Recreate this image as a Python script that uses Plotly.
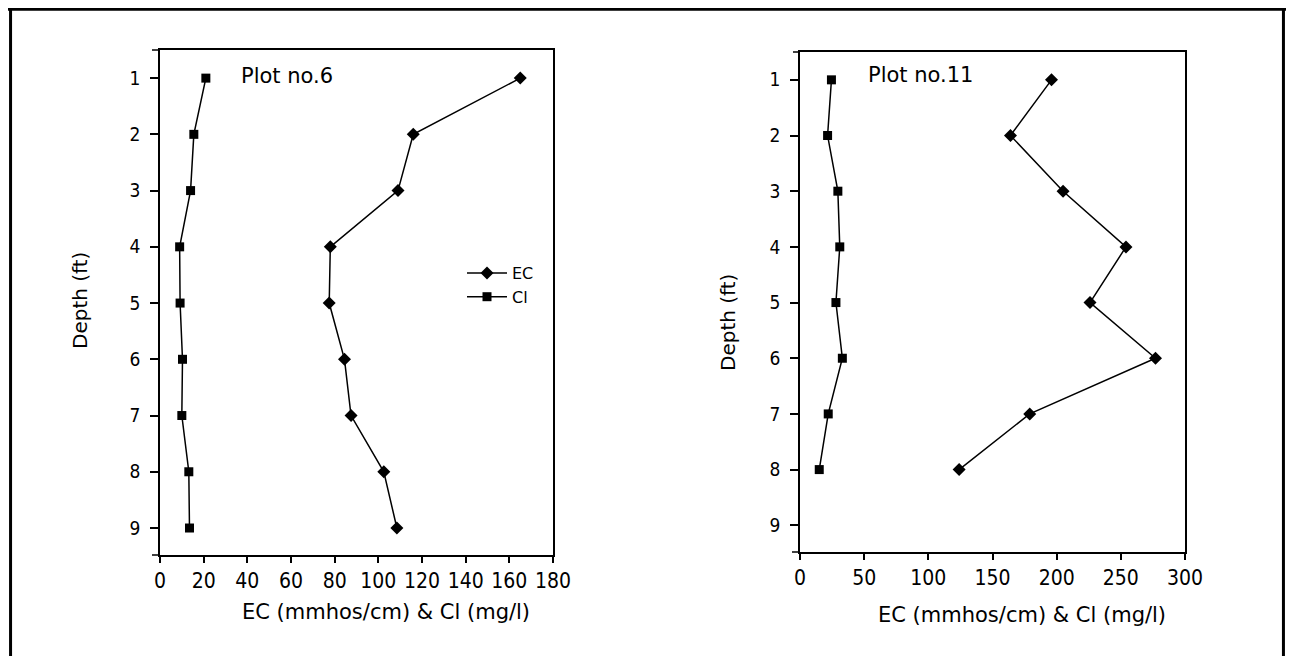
import plotly.graph_objects as go

depth6 = [1, 2, 3, 4, 5, 6, 7, 8, 9]
ec6 = [165, 116, 109, 78, 77.5, 84.5, 87.5, 102.5, 108.5]
cl6 = [21, 15.5, 14, 9, 9.2, 10.3, 10, 13.2, 13.5]

depth11 = [1, 2, 3, 4, 5, 6, 7, 8]
ec11 = [196, 164, 205, 254, 226, 277, 179, 124]
cl11 = [24.5, 21.5, 29.5, 31, 28, 33, 22, 15]

xticks6 = [0, 20, 40, 60, 80, 100, 120, 140, 160, 180]
xticks11 = [0, 50, 100, 150, 200, 250, 300]
yticks = [1, 2, 3, 4, 5, 6, 7, 8, 9]

FONT = "DejaVu Sans, sans-serif"
TICKFONT = "DejaVu Sans Condensed, DejaVu Sans, sans-serif"
OFF = 8                      # page body margin
FW, FH = 1294 - 2 * OFF, 664 - 2 * OFF

def px(x):
    return (x - OFF) / FW

def py(y):
    return (FH - (y - OFF)) / FH

fig = go.Figure()
line = dict(color="black", width=1.5)
fig.add_trace(go.Scatter(x=ec6, y=depth6, mode="lines+markers", name="EC", line=line,
                         marker=dict(symbol="diamond", size=10, color="black"),
                         xaxis="x", yaxis="y", showlegend=True))
fig.add_trace(go.Scatter(x=cl6, y=depth6, mode="lines+markers", name="Cl", line=line,
                         marker=dict(symbol="square", size=9, color="black"),
                         xaxis="x", yaxis="y", showlegend=True))
fig.add_trace(go.Scatter(x=ec11, y=depth11, mode="lines+markers", name="EC", line=line,
                         marker=dict(symbol="diamond", size=10, color="black"),
                         xaxis="x2", yaxis="y2", showlegend=False))
fig.add_trace(go.Scatter(x=cl11, y=depth11, mode="lines+markers", name="Cl", line=line,
                         marker=dict(symbol="square", size=9, color="black"),
                         xaxis="x2", yaxis="y2", showlegend=False))

base = dict(showline=True, linecolor="black", linewidth=1.5, mirror=True,
            ticks="outside", tickcolor="black", tickwidth=1.5,
            showgrid=False, zeroline=False, automargin=False)
xfont = dict(family=TICKFONT, size=21, color="black")
yfont = dict(family=TICKFONT, size=19, color="black")

fig.update_layout(
    width=FW, height=FH,
    margin=dict(l=0, r=0, t=0, b=0, autoexpand=False),
    paper_bgcolor="white", plot_bgcolor="white",
    xaxis=dict(domain=[px(160), px(553)], range=[0, 180], tickvals=xticks6,
               anchor="y", ticklen=6, tickfont=xfont, **base),
    yaxis=dict(domain=[py(555), py(50)], range=[9.48, 0.5], tickvals=yticks,
               anchor="x", ticklen=8, ticklabelstandoff=6, tickfont=yfont, **base),
    xaxis2=dict(domain=[px(800), px(1185)], range=[0, 300], tickvals=xticks11,
                anchor="y2", ticklen=6, tickfont=xfont, **base),
    yaxis2=dict(domain=[py(552), py(52)], range=[9.48, 0.5], tickvals=yticks,
                anchor="x2", ticklen=8, ticklabelstandoff=6, tickfont=yfont, **base),
    showlegend=True,
    legend=dict(x=px(462), y=py(256), xanchor="left", yanchor="top",
                bgcolor="rgba(0,0,0,0)", tracegroupgap=0, itemwidth=40,
                font=dict(family=FONT, size=16, color="black")),
)

ann_font = dict(family=FONT, size=20, color="black")
title_font = dict(family=FONT, size=21, color="black")
fig.add_annotation(x=px(287), y=py(76), xref="paper", yref="paper", text="Plot no.6",
                   xanchor="center", yanchor="middle", showarrow=False, font=title_font)
fig.add_annotation(x=px(920), y=py(75), xref="paper", yref="paper", text="Plot no.11",
                   xanchor="center", yanchor="middle", showarrow=False, font=title_font)
fig.add_annotation(x=px(386), y=py(612), xref="paper", yref="paper",
                   text="EC (mmhos/cm) & Cl (mg/l)", xanchor="center", yanchor="middle",
                   showarrow=False, font=title_font)
fig.add_annotation(x=px(1022), y=py(615), xref="paper", yref="paper",
                   text="EC (mmhos/cm) & Cl (mg/l)", xanchor="center", yanchor="middle",
                   showarrow=False, font=title_font)
fig.add_annotation(x=px(80), y=py(301), xref="paper", yref="paper", text="Depth (ft)",
                   textangle=-90, xanchor="center", yanchor="middle",
                   showarrow=False, font=ann_font)
fig.add_annotation(x=px(728), y=py(323), xref="paper", yref="paper", text="Depth (ft)",
                   textangle=-90, xanchor="center", yanchor="middle",
                   showarrow=False, font=ann_font)

# outer border (left, top, right)
border = dict(color="black", width=3)
fig.add_shape(type="line", xref="paper", yref="paper", x0=0.002, x1=0.002, y0=0, y1=1,
              line=border)
fig.add_shape(type="line", xref="paper", yref="paper", x0=0, x1=1, y0=0.998, y1=0.998,
              line=border)
fig.add_shape(type="line", xref="paper", yref="paper", x0=0.998, x1=0.998, y0=0, y1=1,
              line=border)
# small axis extensions
for (x0, x1, y) in [(152, 160, 50), (152, 160, 555), (793, 800, 52), (792, 800, 552)]:
    fig.add_shape(type="line", xref="paper", yref="paper", x0=px(x0), x1=px(x1),
                  y0=py(y), y1=py(y), line=dict(color="black", width=1.5))

fig.write_html("out.html")
